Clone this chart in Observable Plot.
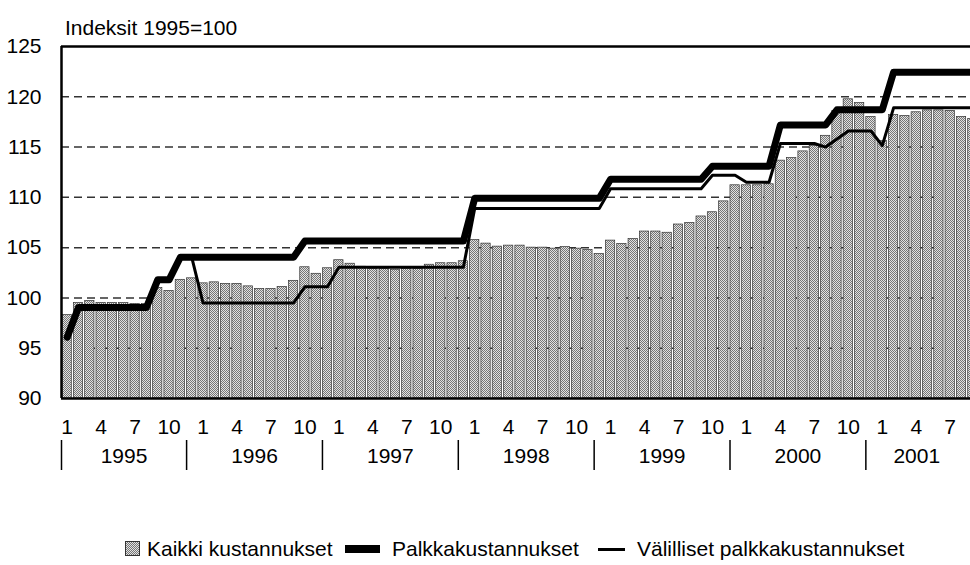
<!DOCTYPE html>
<html><head><meta charset="utf-8">
<script src="https://cdn.jsdelivr.net/npm/d3@7"></script>
<script src="https://cdn.jsdelivr.net/npm/@observablehq/plot@0.6"></script>
<style>
html,body{margin:0;padding:0;background:#fff;overflow:hidden;width:970px;height:565px;}
body{position:relative;font-family:"Liberation Sans",Arial,sans-serif;color:#000;}
#chart{position:absolute;left:0;top:0;}
#title{position:absolute;left:65px;top:15px;font-size:21px;line-height:26px;white-space:nowrap;}
.leg{position:absolute;top:536px;font-size:21px;line-height:26px;white-space:nowrap;}
.sw{position:absolute;}
</style>
</head><body>
<div id="chart"></div>
<div id="title">Indeksit 1995=100</div>
<div id="legend"></div>
<script>
const years = [1995, 1996, 1997, 1998, 1999, 2000, 2001];
const monthTickLabels = ["1", "4", "7", "10"];
const yTicks = [90, 95, 100, 105, 110, 115, 120, 125];
const seriesNames = ["Kaikki kustannukset", "Palkkakustannukset", "Välilliset palkkakustannukset"];

// Kaikki kustannukset (bars), monthly 1/1995 - 9/2001
const kaikki = [
  98.3, 99.5, 99.7, 99.5, 99.5, 99.5, 99.4, 99.4, 101.0, 100.7, 101.8, 101.95,
  101.45, 101.55, 101.4, 101.4, 101.15, 100.9, 100.9, 101.1, 101.7, 103.05, 102.4, 102.95,
  103.75, 103.4, 103.1, 102.9, 102.9, 102.8, 102.9, 102.9, 103.3, 103.45, 103.45, 103.65,
  105.75, 105.4, 105.1, 105.2, 105.2, 105.0, 105.0, 104.9, 105.05, 104.9, 104.77, 104.37,
  105.7, 105.37, 105.86, 106.6, 106.6, 106.48, 107.3, 107.46, 108.1, 108.52, 109.6, 111.2,
  111.2, 111.2, 111.3, 113.65, 113.9, 114.57, 115.1, 116.12, 118.6, 119.75, 119.38, 118.0,
  115.6, 118.2, 118.1, 118.46, 118.65, 118.65, 118.6, 118.0, 117.8
];
// Palkkakustannukset (thick line)
const palkka = [
  96.1, 99.05, 99.05, 99.05, 99.05, 99.05, 99.05, 99.05, 101.8, 101.8, 104.05, 104.05,
  104.05, 104.05, 104.05, 104.05, 104.05, 104.05, 104.05, 104.05, 104.05, 105.65, 105.65, 105.65,
  105.65, 105.65, 105.65, 105.65, 105.65, 105.65, 105.65, 105.65, 105.65, 105.65, 105.65, 105.65,
  109.9, 109.9, 109.9, 109.9, 109.9, 109.9, 109.9, 109.9, 109.9, 109.9, 109.9, 109.9,
  111.8, 111.8, 111.8, 111.8, 111.8, 111.8, 111.8, 111.8, 111.8, 113.1, 113.1, 113.1,
  113.1, 113.1, 113.1, 117.2, 117.2, 117.2, 117.2, 117.2, 118.7, 118.7, 118.7, 118.7,
  118.7, 122.45, 122.45, 122.45, 122.45, 122.45, 122.45, 122.45, 122.45
];
// Välilliset palkkakustannukset (thin line)
const valilliset = [
  96.1, 99.05, 99.05, 99.05, 99.05, 99.05, 99.05, 99.05, 101.8, 101.8, 104.05, 104.05,
  99.5, 99.5, 99.5, 99.5, 99.5, 99.5, 99.5, 99.5, 99.5, 101.1, 101.1, 101.1,
  103.05, 103.05, 103.05, 103.05, 103.05, 103.05, 103.05, 103.05, 103.05, 103.05, 103.05, 103.05,
  108.9, 108.9, 108.9, 108.9, 108.9, 108.9, 108.9, 108.9, 108.9, 108.9, 108.9, 108.9,
  110.85, 110.85, 110.85, 110.85, 110.85, 110.85, 110.85, 110.85, 110.85, 112.2, 112.2, 112.2,
  111.5, 111.5, 111.5, 115.35, 115.35, 115.35, 115.35, 115.0, 115.8, 116.6, 116.6, 116.6,
  115.15, 118.9, 118.9, 118.9, 118.9, 118.9, 118.9, 118.9, 118.9
];

const n = kaikki.length;
const data = kaikki.map((v, k) => ({i: k + 1, kaikki: v, palkka: palkka[k], valilliset: valilliset[k]}));
const xDomain = [0.5, n + 0.5];
const yDomain = [yTicks[0], yTicks[yTicks.length - 1]];

const monthTicks = [];
years.forEach((y, k) => monthTickLabels.forEach(m => {
  const idx = k * 12 + (+m);
  if (idx <= n) monthTicks.push(idx);
}));
const monthLabelOf = i => String(((i - 1) % 12) + 1);

const sepShift = -0.95;
const seps = years.map((y, k) => k === 0 ? xDomain[0] : k * 12 + 0.5 + sepShift);
const sepEnd = n + 0.5 + sepShift;
const yearLabels = years.map((y, k) => ({
  year: String(y),
  x: (seps[k] + (k + 1 < years.length ? seps[k + 1] : sepEnd)) / 2
}));

const half = 0.41;

const svg = Plot.plot({
  width: 978, height: 480,
  marginTop: 46, marginBottom: 82, marginLeft: 61, marginRight: 0,
  style: "max-width:none;overflow:visible;font-family:'Liberation Sans',Arial,sans-serif;font-size:21px;color:#000;background:transparent",
  x: {domain: xDomain},
  y: {domain: yDomain},
  marks: [
    Plot.ruleY(yTicks.slice(1, -1), {stroke: "#333", strokeWidth: 1.5, strokeDasharray: "8,5"}),
    Plot.rectY(data, {x1: d => d.i - half, x2: d => d.i + half, y1: yDomain[0], y2: "kaikki",
      fill: "url(#stip)", stroke: "#333", strokeWidth: 0.7}),
    Plot.line(data, {x: "i", y: "palkka", stroke: "#000", strokeWidth: 7}),
    Plot.line(data, {x: "i", y: "valilliset", stroke: "#000", strokeWidth: 3}),
    Plot.ruleY(yDomain, {stroke: "#000", strokeWidth: 2.5}),
    Plot.ruleX([xDomain[0]], {stroke: "#000", strokeWidth: 2.5}),
    Plot.axisY({ticks: yTicks, tickSize: 0, tickPadding: 20, label: null, fontSize: 21}),
    Plot.axisX({ticks: monthTicks, tickSize: 0, tickPadding: 21, tickFormat: monthLabelOf, label: null, fontSize: 21}),
    Plot.axisX({ticks: seps, tickSize: 30, tickFormat: () => "", label: null, dy: 42, strokeWidth: 1.5}),
    Plot.text(yearLabels, {x: "x", text: "year", frameAnchor: "bottom", dy: 64, fontSize: 21})
  ]
});

const defs = d3.select(svg).insert("defs", ":first-child");
const pat = defs.append("pattern").attr("id", "stip").attr("width", 2).attr("height", 2)
  .attr("patternUnits", "userSpaceOnUse");
pat.append("rect").attr("width", 2).attr("height", 2).attr("fill", "#e2e2e2");
pat.append("rect").attr("x", 0).attr("y", 0).attr("width", 1).attr("height", 1).attr("fill", "#767676");
pat.append("rect").attr("x", 1).attr("y", 1).attr("width", 1).attr("height", 1).attr("fill", "#767676");
document.getElementById("chart").appendChild(svg);

// Legend
const legend = document.getElementById("legend");
const items = [
  {sw: {left: 125, top: 541, width: 15, height: 15, background: "repeating-conic-gradient(#767676 0 25%, #e2e2e2 0 50%) 0 0/2px 2px", border: "1px solid #333"}, textLeft: 147},
  {sw: {left: 345, top: 545, width: 35, height: 8, background: "#000"}, textLeft: 392},
  {sw: {left: 598, top: 548, width: 27, height: 3, background: "#000"}, textLeft: 637}
];
items.forEach((it, k) => {
  const s = document.createElement("div");
  s.className = "sw";
  s.style.left = it.sw.left + "px"; s.style.top = it.sw.top + "px";
  s.style.width = it.sw.width + "px"; s.style.height = it.sw.height + "px";
  s.style.background = it.sw.background;
  if (it.sw.border) { s.style.border = it.sw.border; s.style.boxSizing = "border-box"; }
  legend.appendChild(s);
  const t = document.createElement("div");
  t.className = "leg";
  t.style.left = it.textLeft + "px";
  t.textContent = seriesNames[k];
  legend.appendChild(t);
});
</script>
</body></html>
